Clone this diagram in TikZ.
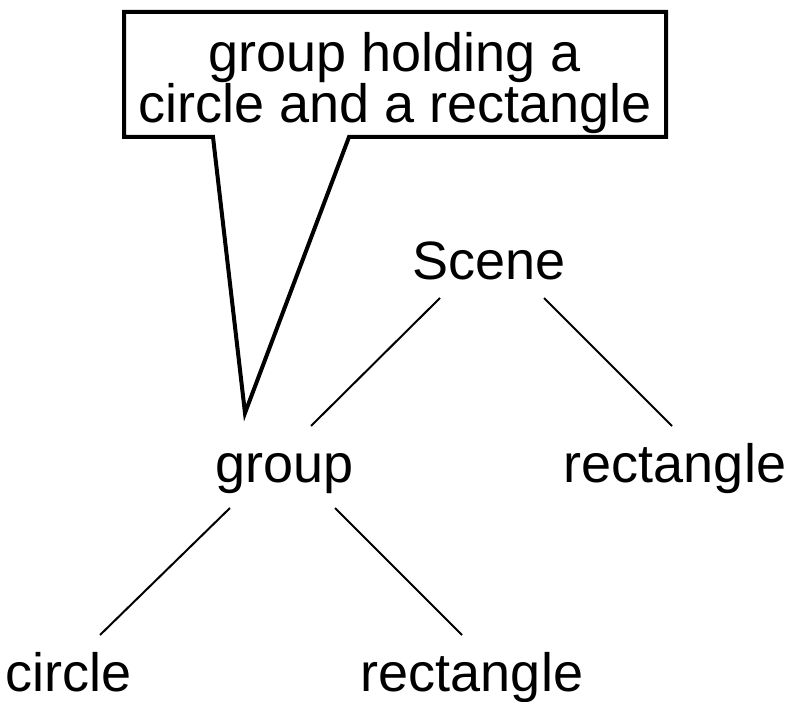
\documentclass[tikz,border=0pt]{standalone}
\usepackage{fontspec}
\setmainfont{Liberation Sans}
\begin{document}
\begin{tikzpicture} [x=1pt, y=1pt]
    \tikzstyle{every node} = [inner sep=0pt, anchor=base, font=\fontsize{54}{49}\selectfont]
    \tikzstyle{branch} = [line width=2pt]
    \tikzstyle{callout} = [line width=4pt, line join=miter]
    \useasboundingbox (0,0) rectangle (796,702);
    % tree
    \node (scene) at (489,422) {Scene};
    \node (group) at (285,219) {group};
    \node (rect) at (675,219) {rectangle};
    \node (circle) at (69,10) {circle};
    \node (inner rect) at (472,10) {rectangle};
    \draw [branch] ([shift={(-49,-18)}]scene.base) -- ([shift={(26,57)}]group.base);
    \draw [branch] ([shift={(55,-18)}]scene.base) -- ([shift={(-3,57)}]rect.base);
    \draw [branch] ([shift={(-55,-25)}]group.base) -- ([shift={(31,57)}]circle.base);
    \draw [branch] ([shift={(50,-25)}]group.base) -- ([shift={(-10,57)}]inner rect.base);
    % callout
    \node (line one) at (395,630) {group holding a};
    \node (line two) at (395,579) {circle and a rectangle};
    \coordinate (tip) at (245,289);
    \draw [callout] (213,565) -- (124,565) -- (124,690) -- (666,690) -- (666,565) -- (349,565) -- (tip) -- cycle;
\end{tikzpicture}
\end{document}
